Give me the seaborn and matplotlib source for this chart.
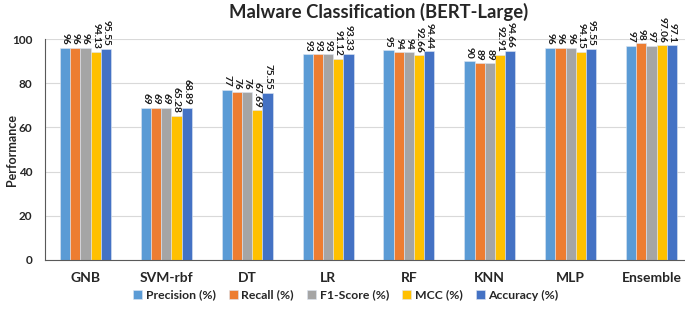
import pandas as pd
import matplotlib
matplotlib.use("Agg")
import matplotlib.pyplot as plt
import seaborn as sns

modelos = ["GNB", "SVM-rbf", "DT", "LR", "RF", "KNN", "MLP", "Ensemble"]
metricas = ["Precision (%)", "Recall (%)", "F1-Score (%)", "MCC (%)", "Accuracy (%)"]

precision = [96, 69, 77, 93, 95, 90, 96, 97]
recall = [96, 69, 76, 93, 94, 89, 96, 98]
f1_score = [96, 69, 76, 93, 94, 89, 96, 97]
mcc = [94.13, 65.28, 67.69, 91.12, 92.66, 92.91, 94.15, 97.06]
accuracy = [95.55, 68.89, 75.55, 93.33, 94.44, 94.66, 95.55, 97.1]

colores = ["#5B9BD5", "#ED7D31", "#A5A5A5", "#FFC000", "#4472C4"]

sns.set_style("white")
plt.rcParams["font.family"] = ["Lato", "DejaVu Sans"]

valores = {m: v for m, v in zip(metricas, [precision, recall, f1_score, mcc, accuracy])}
filas = []
for metrica, serie in valores.items():
    for modelo, v in zip(modelos, serie):
        filas.append({"Modelo": modelo, "Metrica": metrica, "Valor": v})
df = pd.DataFrame(filas)

fig = plt.figure(figsize=(6.85, 3.13), dpi=100)
W, H = 685, 313
ax = fig.add_axes([45 / W, 1 - 260 / H, (692 - 45) / W, (260 - 39) / H])

sns.barplot(data=df, x="Modelo", y="Valor", hue="Metrica", order=modelos,
            hue_order=metricas, palette=colores, saturation=1, width=0.63, gap=0,
            edgecolor="#DDE6F2", linewidth=0.4, ax=ax)

for cont in ax.containers:
    ax.bar_label(cont, labels=[f"{b.get_height():g}" for b in cont],
                 rotation=270, padding=2, fontsize=7.3, fontweight="bold",
                 color="#1a1a1a", clip_on=False)

ax.set_ylim(0, 100)
ax.set_xlim(-0.5, 7.5)
ax.set_yticks([0, 20, 40, 60, 80, 100])
ax.yaxis.grid(True, color="#D9D9D9", linewidth=0.8)
ax.set_axisbelow(True)
for lado in ["top", "right"]:
    ax.spines[lado].set_visible(False)
ax.spines["left"].set_color("#595959")
ax.spines["bottom"].set_color("#595959")
ax.tick_params(axis="both", length=0)
ax.tick_params(axis="x", labelsize=10, pad=9)
ax.tick_params(axis="y", labelsize=8.5, pad=9)
for t in ax.get_xticklabels() + ax.get_yticklabels():
    t.set_fontweight("bold")
ax.set_xlabel("")
ax.set_ylabel("Performance", fontsize=9, fontweight="bold")
ax.yaxis.set_label_coords(-27 / 647, 0.5)

fig.text(379 / W, 1 - 12 / H, "Malware Classification (BERT-Large)",
         ha="center", va="center", fontsize=13.3, fontweight="bold")

handles, labels = ax.get_legend_handles_labels()
ax.get_legend().remove()
fig.legend(handles, labels, loc="center", bbox_to_anchor=(346 / W, 1 - 295 / H),
           ncol=5, frameon=False, prop={"size": 8.8, "weight": "bold"},
           handlelength=0.7, handleheight=0.7, handletextpad=0.3, columnspacing=1.1)

fig.savefig("out.png", dpi=100)
